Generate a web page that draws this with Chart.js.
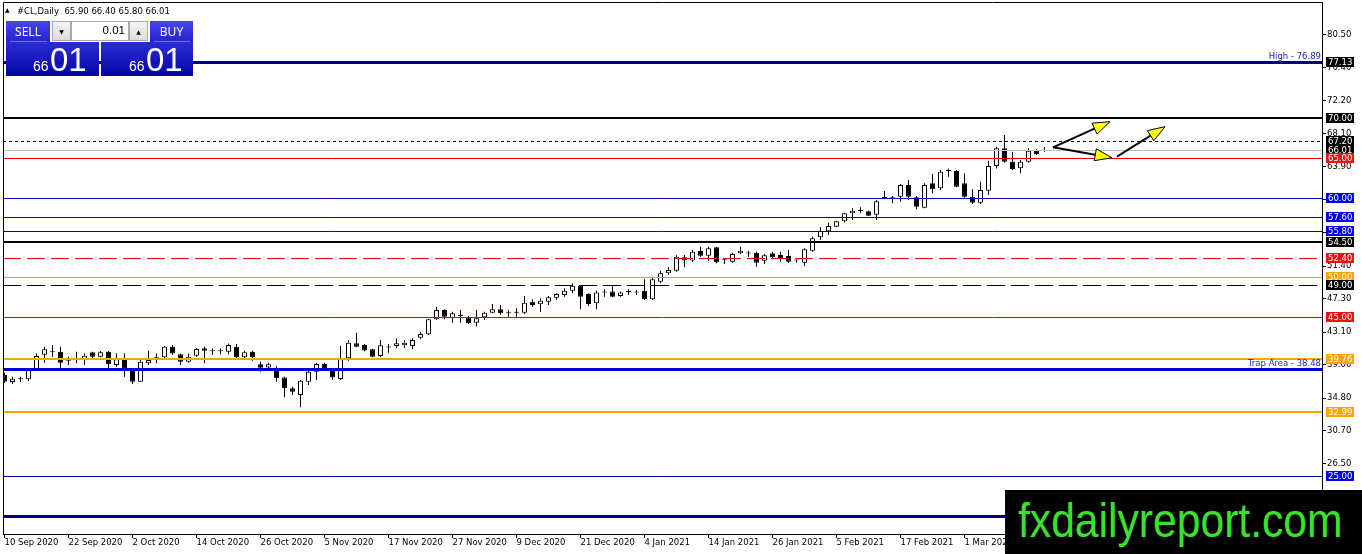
<!DOCTYPE html>
<html><head><meta charset="utf-8">
<script src="https://cdn.jsdelivr.net/npm/chart.js@4.4.1/dist/chart.umd.min.js"></script>
<style>
html,body{margin:0;padding:0;background:#fff;width:1362px;height:554px;overflow:hidden;}
#wrap{position:relative;width:1362px;height:554px;}
canvas{position:absolute;left:0;top:0;}
.ov{position:absolute;box-sizing:border-box;white-space:pre;}
.btn{background:linear-gradient(to bottom,#4646f2,#2424cc);color:#fff;font:12px 'Noto Sans';display:flex;align-items:center;justify-content:center;}
.ctl{background:linear-gradient(to bottom,#f4f4f4,#dcdcdc);border:1px solid #a8a8a8;font:6px 'DejaVu Sans';color:#000;display:flex;align-items:center;justify-content:center;}
.inp{background:#fff;border:1px solid #a8a8a8;font:11.5px 'Liberation Sans';color:#000;text-align:right;padding-right:3px;line-height:17px;}
.big{background:linear-gradient(to bottom,#2c2cd8,#0505a0);color:#fff;}
.sm{position:absolute;font:14px/14px 'Liberation Sans';}
.lg{position:absolute;font:33px/33px 'Liberation Sans';}
.sep{position:absolute;height:1px;background:rgba(170,170,255,0.55);}
</style></head><body>
<div id="wrap">
<canvas id="c" width="1362" height="554"></canvas>
<div class="ov" style="left:5px;top:7px;font:6px/6px 'DejaVu Sans';">▲</div>
<div class="ov" style="left:17px;top:5px;font:8.5px/12px 'DejaVu Sans';color:#000;">#CL,Daily  65.90 66.40 65.80 66.01</div>
<div class="ov btn" style="left:6px;top:21px;width:44px;height:21px;">SELL</div>
<div class="ov ctl" style="left:52px;top:21px;width:19px;height:20px;">▼</div>
<div class="ov inp" style="left:71px;top:21px;width:58px;height:20px;">0.01</div>
<div class="ov ctl" style="left:129px;top:21px;width:19px;height:20px;">▲</div>
<div class="ov btn" style="left:150px;top:21px;width:43px;height:21px;">BUY</div>
<div class="ov big" style="left:6px;top:42px;width:93px;height:34px;">
  <span class="sm" style="left:27px;top:17px;">66</span><span class="lg" style="left:44px;top:1px;">01</span>
</div>
<div class="ov big" style="left:101px;top:42px;width:92px;height:34px;">
  <span class="sm" style="left:28px;top:17px;">66</span><span class="lg" style="left:45px;top:1px;">01</span>
</div>
<div class="sep" style="left:10px;top:41px;width:37px;"></div>
<div class="sep" style="left:154px;top:41px;width:36px;"></div>
<div class="ov" style="left:1005px;top:490px;width:357px;height:64px;background:#000;overflow:hidden;">
  <span style="position:absolute;left:13px;top:6px;font:49px/49px 'Liberation Sans';color:#3be22c;transform:scaleX(0.87);transform-origin:0 0;">fxdailyreport.com</span>
</div>
</div>
<script>
// ---- data ----
const open = [37.70,36.82,37.15,37.15,38.33,40.26,40.55,40.64,39.50,39.55,
39.59,40.55,40.00,40.64,38.96,39.59,38.41,36.86,39.17,39.88,
39.92,41.26,40.30,39.38,40.13,41.06,40.68,40.68,40.64,41.26,
39.92,40.64,39.04,38.66,38.62,37.40,36.02,35.18,36.86,38.12,
39.08,38.41,37.20,39.80,41.70,41.48,40.93,40.09,41.15,41.35,
41.44,41.35,42.40,42.82,44.71,45.88,44.83,45.30,44.96,44.29,
44.96,45.55,45.97,45.55,45.55,45.55,46.93,46.60,46.93,47.44,
47.77,48.32,48.95,47.90,46.72,48.07,48.20,47.65,48.15,48.10,
48.32,47.23,49.45,50.50,50.83,52.51,52.10,53.31,52.72,53.77,
52.13,51.97,53.02,53.00,53.10,52.09,53.02,52.80,52.68,52.13,
51.84,53.35,55.03,55.79,56.37,57.04,58.05,58.35,58.30,57.88,
59.98,60.02,60.15,61.62,60.06,58.76,61.83,61.20,63.38,63.38,
61.83,60.15,59.39,60.90,64.01,66.23,64.55,63.72,64.56,65.94,
65.90];
const high = [38.00,37.49,37.49,38.41,40.42,41.26,41.47,41.26,40.00,40.64,
40.42,40.64,40.72,40.72,40.42,40.42,38.54,39.67,40.76,40.42,
41.35,41.47,40.42,40.42,41.06,41.26,41.06,41.06,41.68,41.60,
40.76,40.76,39.38,39.25,38.83,37.49,36.23,37.07,38.33,39.25,
39.25,38.54,41.35,42.10,43.03,41.60,41.00,42.11,41.60,42.32,
42.10,42.32,43.16,44.79,46.30,45.97,45.67,45.88,45.13,45.88,
45.67,46.64,46.51,45.88,46.10,47.65,47.23,47.35,47.65,47.98,
48.61,49.24,49.03,47.98,48.32,48.49,49.03,48.20,48.49,48.40,
49.75,50.08,50.83,51.25,52.76,52.80,53.44,53.86,53.86,53.86,
52.39,53.10,53.86,53.35,53.23,52.93,53.23,53.23,53.44,52.20,
53.65,55.12,56.29,56.88,57.13,58.14,58.68,58.81,58.39,59.73,
60.86,60.23,61.74,62.25,60.23,61.83,63.00,63.50,63.71,63.50,
63.08,61.07,62.04,64.68,66.44,67.91,65.81,64.77,66.23,66.11,
66.40];
const low = [36.70,36.57,36.82,36.94,38.24,39.25,40.00,38.54,38.96,39.17,
38.96,39.80,39.92,38.33,38.75,37.49,36.57,36.86,38.96,39.17,
39.80,40.22,38.96,39.25,40.00,39.17,40.22,40.30,40.30,39.80,
39.80,39.50,38.12,38.54,36.86,34.89,35.18,33.63,36.44,37.07,
38.24,37.07,37.07,39.50,41.18,40.68,39.93,39.93,40.50,41.06,
41.06,40.93,42.19,42.74,44.63,44.71,44.29,44.29,44.12,43.79,
44.63,45.46,45.25,45.04,44.83,45.38,46.30,45.67,46.51,47.14,
47.56,47.98,45.97,46.39,45.97,47.56,47.48,47.56,47.77,47.77,
47.14,47.14,49.24,50.29,50.71,51.25,51.97,52.60,52.09,51.76,
51.67,51.84,52.93,52.60,51.34,51.67,52.26,51.97,51.84,51.84,
51.42,53.23,54.70,55.33,56.29,56.88,57.21,58.05,57.72,57.21,
59.81,59.31,59.52,59.73,58.55,58.68,60.57,60.99,62.67,61.32,
59.94,59.22,59.22,60.36,63.71,64.43,63.51,63.09,64.43,65.39,
65.80];
const close = [36.86,37.24,37.24,38.33,40.09,40.93,40.64,39.25,39.59,39.63,
40.13,40.00,40.55,39.04,39.67,38.54,36.86,39.38,39.59,40.00,
41.26,40.42,39.38,40.00,40.97,40.76,40.76,40.76,41.47,39.92,
40.55,39.92,38.62,39.04,37.28,36.02,35.60,36.99,38.12,39.08,
38.54,37.40,39.67,41.77,41.27,40.77,40.01,41.44,41.25,41.69,
41.77,42.11,42.86,44.71,45.88,45.04,45.46,45.10,44.20,44.83,
45.55,45.97,45.46,45.60,45.60,46.81,46.51,47.06,47.48,47.90,
48.32,48.95,47.56,46.64,48.07,48.10,47.56,48.07,48.20,48.07,
47.23,49.75,50.50,50.92,52.60,52.10,53.20,52.72,53.65,51.88,
52.18,52.93,53.35,53.02,51.84,52.76,52.51,52.39,51.97,52.10,
53.52,54.91,55.87,56.46,57.04,58.05,58.39,58.39,57.76,59.56,
60.06,60.00,61.62,60.15,58.89,61.62,61.07,63.30,63.42,61.41,
60.15,59.39,60.99,64.01,66.23,64.55,63.63,64.56,65.94,65.52,
66.01];
const xTickLabels = ['10 Sep 2020','22 Sep 2020','2 Oct 2020','14 Oct 2020','26 Oct 2020','5 Nov 2020','17 Nov 2020','27 Nov 2020','9 Dec 2020','21 Dec 2020','4 Jan 2021','14 Jan 2021','26 Jan 2021','5 Feb 2021','17 Feb 2021','1 Mar 2021'];
const barsPerLabel = 8;
const yTickValues = [80.50,76.40,72.20,68.10,63.90,59.80,55.60,51.40,47.30,43.10,39.00,34.80,30.70,26.50,22.40,18.20];
const levelValues = [77.13,70.00,67.20,66.01,65.00,60.00,57.60,55.80,54.50,52.40,50.00,49.00,45.00,39.76,38.48,32.99,25.00,19.95];
const tagValues = [66.01,77.13,70.00,67.20,65.00,60.00,57.60,55.80,54.50,52.40,50.00,49.00,45.00,39.76,32.99,25.00];
const noteLevels = [77.13,38.48];
const noteTexts = ['High - 76.89','Trap Area - 38.48'];
const arrowPoints = [[131.06,66.36,138.19,69.59],[131.06,66.36,138.44,65.05],[139.06,65.18,145.06,68.96]];

// ---- styles ----
const NAVY='#00007f', BLK='#000000', RED='#e00000', BLUE='#0000cd', ORG='#ffa500', GRY='#c0c0c0';
const levelStyles = [
 {c:NAVY,w:3},{c:BLK,w:2},{c:BLK,w:1,d:[3,3]},{c:GRY,w:1},{c:RED,w:1},
 {c:BLUE,w:1},{c:BLUE,w:1},{c:BLUE,w:1},{c:BLK,w:2},{c:RED,w:1,d:[18,6]},
 {c:ORG,w:1},{c:BLK,w:1,d:[18,6]},{c:RED,w:1},{c:ORG,w:2},{c:BLUE,w:3},
 {c:ORG,w:2},{c:'#0000b0',w:1},{c:NAVY,w:3}
];
const tagColors = ['#000','#000','#000','#000','#ee1111','#0000ee','#0000ee','#0000ee','#000','#ee1111','#ffa500','#000','#ee1111','#ffa500','#ffa500','#0000ee'];
const FONT = "8.5px 'DejaVu Sans'";

const idx = open.map((_, i) => i);
const wickData = idx.map(i => ({x: i, y: [low[i], high[i]]}));
const bodyData = idx.map(i => ({x: i, y: [open[i], close[i]]}));

const mt4 = {
  id: 'mt4',
  afterDatasetsDraw(chart) {
    const {ctx, chartArea: a, scales: {x, y}} = chart;
    ctx.save();
    ctx.beginPath(); ctx.rect(a.left, a.top, a.right - a.left, a.bottom - a.top); ctx.clip();
    levelValues.forEach((v, k) => {
      const st = levelStyles[k];
      const py = Math.round(y.getPixelForValue(v)) + (st.w % 2 ? 0.5 : 0);
      ctx.strokeStyle = st.c; ctx.lineWidth = st.w; ctx.setLineDash(st.d || []);
      ctx.beginPath(); ctx.moveTo(a.left, py); ctx.lineTo(a.right, py); ctx.stroke();
    });
    ctx.setLineDash([]);
    ctx.font = FONT; ctx.fillStyle = '#1a1ac8'; ctx.textAlign = 'right'; ctx.textBaseline = 'alphabetic';
    noteLevels.forEach((v, k) => {
      ctx.fillText(noteTexts[k], a.right - 1, y.getPixelForValue(v) - 2.5);
    });
    arrowPoints.forEach(p => {
      const x1 = x.getPixelForValue(p[0]), y1 = y.getPixelForValue(p[1]);
      const x2 = x.getPixelForValue(p[2]), y2 = y.getPixelForValue(p[3]);
      const ang = Math.atan2(y2 - y1, x2 - x1), L = 17, W = 6;
      const bx = x2 - L * Math.cos(ang), by = y2 - L * Math.sin(ang);
      ctx.strokeStyle = '#000'; ctx.lineWidth = 2;
      ctx.beginPath(); ctx.moveTo(x1, y1); ctx.lineTo(bx, by); ctx.stroke();
      ctx.beginPath();
      ctx.moveTo(x2, y2);
      ctx.lineTo(bx + W * Math.sin(ang), by - W * Math.cos(ang));
      ctx.lineTo(bx - W * Math.sin(ang), by + W * Math.cos(ang));
      ctx.closePath();
      ctx.fillStyle = '#ffff00'; ctx.fill();
      ctx.lineWidth = 1; ctx.stroke();
    });
    ctx.restore();
  },
  afterDraw(chart) {
    const {ctx, chartArea: a, scales: {y}} = chart;
    ctx.save();
    ctx.strokeStyle = '#000'; ctx.lineWidth = 1;
    ctx.beginPath();
    ctx.moveTo(a.left + 0.5, a.bottom); ctx.lineTo(a.left + 0.5, a.top + 0.5); ctx.lineTo(a.right, a.top + 0.5);
    ctx.stroke();
    ctx.font = FONT; ctx.textAlign = 'left'; ctx.textBaseline = 'middle';
    tagValues.forEach((v, k) => {
      const py = Math.round(y.getPixelForValue(v));
      ctx.fillStyle = tagColors[k]; ctx.fillRect(a.right + 4, py - 5, 28, 10);
      ctx.fillStyle = '#fff'; ctx.fillText(v.toFixed(2), a.right + 6, py + 0.5);
    });
    ctx.restore();
  }
};

Chart.defaults.font.family = "'DejaVu Sans'";
Chart.defaults.font.size = 8.5;
Chart.defaults.color = '#000';

function noPad(s) { s.paddingTop = 0; s.paddingBottom = 0; s.paddingLeft = 0; s.paddingRight = 0; }

new Chart(document.getElementById('c'), {
  type: 'bar',
  data: { datasets: [
    { label: 'wick', data: wickData, backgroundColor: '#000', borderWidth: 0, barThickness: 1,
      grouped: false, order: 2, inflateAmount: 0 },
    { label: 'body', data: bodyData,
      backgroundColor: c => (close[c.dataIndex] >= open[c.dataIndex] ? '#ffffff' : '#000000'),
      borderColor: '#000', borderWidth: 1, borderSkipped: false, barThickness: 5, minBarLength: 1,
      grouped: false, order: 1, inflateAmount: 0 }
  ]},
  options: {
    responsive: false, animation: false, events: [],
    layout: { padding: { left: 3, top: 2, right: 0, bottom: 0 } },
    plugins: { legend: { display: false }, tooltip: { enabled: false } },
    scales: {
      x: {
        type: 'linear', min: -0.1875, max: 164.6875, offset: false, position: 'bottom',
        grid: { display: true, drawOnChartArea: false, drawTicks: true, tickLength: 4, color: '#000', offset: false },
        border: { display: true, color: '#000', width: 1 },
        afterBuildTicks: s => { s.ticks = xTickLabels.map((_, k) => ({ value: k * barsPerLabel })); },
        afterFit: s => { s.height = 20; noPad(s); },
        ticks: { autoSkip: false, maxRotation: 0, minRotation: 0, align: 'start', padding: 0, color: '#000',
          callback: v => xTickLabels[Math.round(v / barsPerLabel)] || '' }
      },
      y: {
        position: 'right', min: 17.685, max: 84.654,
        grid: { display: true, drawOnChartArea: false, drawTicks: true, tickLength: 4, color: '#000' },
        border: { display: true, color: '#000', width: 1 },
        afterBuildTicks: s => { s.ticks = yTickValues.map(v => ({ value: v })); },
        afterFit: s => { s.width = 40; noPad(s); },
        ticks: { autoSkip: false, padding: 1, color: '#000', callback: v => Number(v).toFixed(2) }
      }
    }
  },
  plugins: [mt4]
});
</script>
</body></html>
